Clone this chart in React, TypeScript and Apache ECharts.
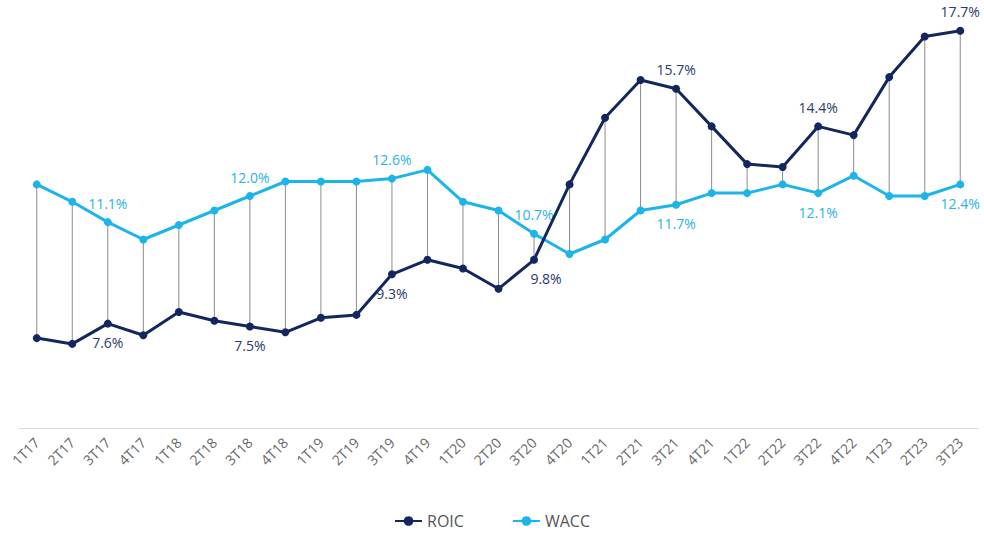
import React, { useEffect, useRef } from "react";
import * as echarts from "echarts";

const categories = [
  "1T17", "2T17", "3T17", "4T17",
  "1T18", "2T18", "3T18", "4T18",
  "1T19", "2T19", "3T19", "4T19",
  "1T20", "2T20", "3T20", "4T20",
  "1T21", "2T21", "3T21", "4T21",
  "1T22", "2T22", "3T22", "4T22",
  "1T23", "2T23", "3T23",
];

const roic = [
  7.1, 6.9, 7.6, 7.2,
  8.0, 7.7, 7.5, 7.3,
  7.8, 7.9, 9.3, 9.8,
  9.5, 8.8, 9.8, 12.4,
  14.7, 16.0, 15.7, 14.4,
  13.1, 13.0, 14.4, 14.1,
  16.1, 17.5, 17.7,
];

const wacc = [
  12.4, 11.8, 11.1, 10.5,
  11.0, 11.5, 12.0, 12.5,
  12.5, 12.5, 12.6, 12.9,
  11.8, 11.5, 10.7, 10.0,
  10.5, 11.5, 11.7, 12.1,
  12.1, 12.4, 12.1, 12.7,
  12.0, 12.0, 12.4,
];

// indices of points that carry a value label (3rd quarter of each year)
const labelledIdx = [2, 6, 10, 14, 18, 22, 26];

const ROIC_COLOR = "#13275f";
const WACC_COLOR = "#1db4ea";

export default function App() {
  const ref = useRef<HTMLDivElement>(null);

  useEffect(() => {
    if (!ref.current) return;
    const chart = echarts.init(ref.current, undefined, { renderer: "svg" });

    const fmt = (v: number) => v.toFixed(1) + "%";

    const roicData = roic.map((v, i) =>
      labelledIdx.includes(i)
        ? {
            value: v,
            label: {
              show: true,
              position: i <= 14 ? "bottom" : "top",
              offset: i === 14 ? [12, 0] : [0, 0],
            },
          }
        : v
    );
    const waccData = wacc.map((v, i) =>
      labelledIdx.includes(i)
        ? {
            value: v,
            label: {
              show: true,
              position: i <= 14 ? "top" : "bottom",
            },
          }
        : v
    );

    chart.setOption({
      animation: false,
      grid: { left: 19, right: 6, top: 22, bottom: 108, containLabel: false },
      legend: {
        data: ["ROIC", "WACC"],
        bottom: 2,
        left: "center",
        itemWidth: 27,
        itemHeight: 12,
        itemGap: 48,
        textStyle: { color: "#555", fontSize: 16, fontFamily: "Open Sans" },
      },
      xAxis: {
        type: "category",
        data: categories,
        boundaryGap: true,
        axisLine: { show: true, lineStyle: { color: "#dcdcdc", width: 1 } },
        axisTick: { show: false },
        axisLabel: {
          rotate: 45,
          interval: 0,
          color: "#666",
          fontSize: 14,
          fontFamily: "Open Sans",
          margin: 12,
        },
        splitLine: { show: false },
      },
      yAxis: {
        type: "value",
        min: 4,
        max: 18,
        show: false,
        splitLine: { show: false },
      },
      series: [
        {
          type: "custom",
          name: "diff",
          silent: true,
          z: 1,
          data: categories.map((_, i) => [i, roic[i], wacc[i]]),
          encode: { x: 0, y: [1, 2] },
          renderItem: (params: any, api: any) => {
            const i = api.value(0);
            const p1 = api.coord([i, api.value(1)]);
            const p2 = api.coord([i, api.value(2)]);
            return {
              type: "line",
              shape: { x1: p1[0], y1: p1[1], x2: p2[0], y2: p2[1] },
              style: { stroke: "#8c8c8c", lineWidth: 1 },
            };
          },
        },
        {
          type: "line",
          name: "ROIC",
          z: 3,
          data: roicData,
          color: ROIC_COLOR,
          symbol: "circle",
          symbolSize: 8,
          lineStyle: { color: ROIC_COLOR, width: 3 },
          itemStyle: { color: ROIC_COLOR },
          label: {
            show: false,
            color: "#2a3a6e",
            fontSize: 14,
            fontFamily: "Open Sans",
            distance: 8,
            formatter: (p: any) => fmt(p.value),
          },
        },
        {
          type: "line",
          name: "WACC",
          z: 2,
          data: waccData,
          color: WACC_COLOR,
          symbol: "circle",
          symbolSize: 8,
          lineStyle: { color: WACC_COLOR, width: 3 },
          itemStyle: { color: WACC_COLOR },
          label: {
            show: false,
            color: "#29b2e6",
            fontSize: 14,
            fontFamily: "Open Sans",
            distance: 8,
            formatter: (p: any) => fmt(p.value),
          },
        },
      ],
    });

    return () => chart.dispose();
  }, []);

  return (
    <div
      ref={ref}
      style={{ position: "fixed", left: 0, top: 0, width: 984, height: 536, background: "#fff" }}
    />
  );
}
